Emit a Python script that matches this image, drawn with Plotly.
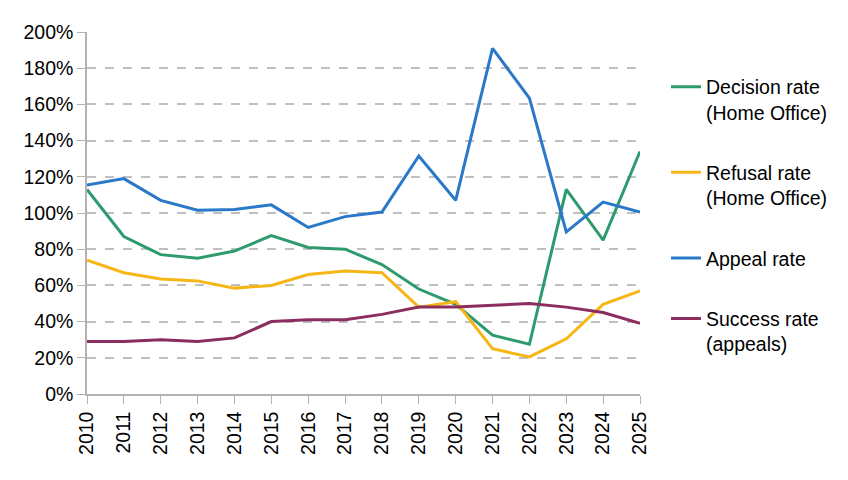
import plotly.graph_objects as go

years = list(range(2010, 2026))
decision_rate = [113, 87, 77, 75, 79, 87.5, 81, 80, 71.5, 58, 49.5, 32.5, 27.5, 113, 85, 134]
refusal_rate = [74, 67, 63.5, 62.5, 58.5, 60, 66, 68, 67, 48, 51, 25, 20.5, 30.5, 49.5, 57]
appeal_rate = [115.5, 119, 107, 101.5, 102, 104.5, 92, 98, 100.5, 131.5, 107, 191, 163.5, 89.5, 106, 100.5]
success_rate = [29, 29, 30, 29, 31, 40, 41, 41, 44, 48, 48, 49, 50, 48, 45, 39]
y_ticks = list(range(0, 201, 20))

series = [
    ("Decision rate<br>(Home Office)", decision_rate, "#2e9b6e"),
    ("Refusal rate<br>(Home Office)", refusal_rate, "#f6b716"),
    ("Appeal rate", appeal_rate, "#2a78c8"),
    ("Success rate<br>(appeals)", success_rate, "#8c2d5f"),
]

fig = go.Figure()
for i, (name, vals, col) in enumerate(series):
    fig.add_trace(go.Scatter(
        x=years, y=vals, name=name, mode="lines",
        line=dict(color=col, width=3), legendgroup=str(i),
    ))

font = "Liberation Sans, Arial, sans-serif"
fig.update_layout(
    width=848, height=480,
    margin=dict(l=87, r=208, t=32, b=86),
    paper_bgcolor="white", plot_bgcolor="white",
    font=dict(family=font, size=19.5, color="#000000"),
    showlegend=True,
    legend=dict(
        x=1.047, xanchor="left", y=0.902, yanchor="top",
        font=dict(family=font, size=19.5, color="#000000"),
        tracegroupgap=32, valign="top",
        bgcolor="rgba(0,0,0,0)",
        traceorder="grouped",
    ),
    xaxis=dict(
        range=[2010, 2025], tickmode="array", tickvals=years,
        ticktext=[str(y) for y in years], tickangle=-90,
        showgrid=False, showline=True, linecolor="#b3b3b3", linewidth=1.5,
        ticks="outside", ticklen=8, tickcolor="#b3b3b3",
        zeroline=False,
    ),
    yaxis=dict(
        range=[0, 200], tickmode="array", tickvals=y_ticks,
        ticktext=[f"{v}%" for v in y_ticks],
        showgrid=True, gridcolor="#c0c0c0", griddash="dash", gridwidth=1.5,
        showline=True, linecolor="#b3b3b3", linewidth=1.5,
        ticks="outside", ticklen=8, tickcolor="#b3b3b3",
        zeroline=False,
    ),
)

fig.write_html("out.html")
